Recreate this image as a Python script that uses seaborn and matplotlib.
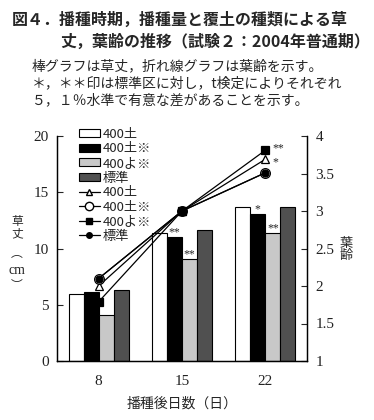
import matplotlib
matplotlib.use("Agg")
import matplotlib.pyplot as plt
import seaborn as sns
import pandas as pd
from matplotlib.patches import Patch
from matplotlib.lines import Line2D

# ---- data ----
days = ["8", "15", "22"]
series = ["400土", "400土※", "400よ※", "標準"]
height_400do = [6.0, 11.35, 13.65]
height_400do_k = [6.1, 11.05, 13.05]
height_400yo_k = [4.1, 9.05, 11.4]
height_std = [6.3, 11.65, 13.7]
leaf_400do = [2.0, 3.0, 3.69]
leaf_400do_k = [2.1, 3.0, 3.51]
leaf_400yo_k = [1.79, 3.0, 3.81]
leaf_std = [2.1, 3.0, 3.51]
bar_sig = {"400土※": ["", "**", "*"], "400よ※": ["", "**", "**"]}
line_sig = {"400土": ["", "", "*"], "400よ※": ["", "", "**"]}

title1 = "図４．播種時期，播種量と覆土の種類による草"
title2 = "丈，葉齢の推移（試験２：2004年普通期）"
notes = ["棒グラフは草丈，折れ線グラフは葉齢を示す。",
         "＊，＊＊印は標準区に対し，t検定によりそれぞれ",
         "５，１％水準で有意な差があることを示す。"]

heights = [height_400do, height_400do_k, height_400yo_k, height_std]
leaves = [leaf_400do, leaf_400do_k, leaf_400yo_k, leaf_std]

bar_df = pd.DataFrame({
    "day": days * 4,
    "series": [s for s in series for _ in days],
    "height": sum(heights, []),
})
line_df = pd.DataFrame({
    "x": list(range(len(days))) * 4,
    "series": [s for s in series for _ in days],
    "leaf": sum(leaves, []),
})

sns.set_style("white")
CJK = ["Noto Sans CJK JP", "DejaVu Sans"]
SERIF = ["Liberation Serif", "Noto Sans CJK JP"]
plt.rcParams["font.family"] = CJK

bar_colors = ["white", "black", "#c8c8c8", "#505050"]
markers = {"400土": "^", "400土※": "o", "400よ※": "s", "標準": "o"}
mfc = {"400土": "white", "400土※": "white", "400よ※": "black", "標準": "black"}
msize = {"400土": 6, "400土※": 7, "400よ※": 6, "標準": 5}

fig = plt.figure(figsize=(3.74, 4.2), dpi=100)
ax = fig.add_axes([57 / 374, 1 - 361 / 420, 250 / 374, 225 / 420])

sns.barplot(data=bar_df, x="day", y="height", hue="series", order=days,
            hue_order=series, palette=bar_colors, edgecolor="black",
            linewidth=0.8, width=0.72, gap=0, saturation=1, ax=ax, legend=False)

ax2 = ax.twinx()
for s in series:
    sub = line_df[line_df["series"] == s]
    sns.lineplot(data=sub, x="x", y="leaf", color="black", marker=markers[s],
                 markerfacecolor=mfc[s], markeredgecolor="black",
                 markersize=msize[s], markeredgewidth=0.9, linewidth=0.9,
                 ax=ax2, legend=False)

# significance marks on bars
for cont, s in zip(ax.containers, series):
    if s in bar_sig:
        for bar, mark in zip(cont, bar_sig[s]):
            if mark:
                ax.annotate(mark, (bar.get_x() + bar.get_width() / 2, bar.get_height()),
                            xytext=(0, -1), textcoords="offset points",
                            ha="center", va="bottom", fontsize=8.5,
                            family=SERIF)
line_offsets = {"400土": (5, -2), "400よ※": (5, 1.5)}
for s in series:
    if s in line_sig:
        vals = leaves[series.index(s)]
        for i, mark in enumerate(line_sig[s]):
            if mark:
                ax2.annotate(mark, (i, vals[i]), xytext=line_offsets[s],
                             textcoords="offset points", ha="left",
                             va="center", fontsize=8.5, family=SERIF)

ax.set_ylim(0, 20)
ax.set_yticks([0, 5, 10, 15, 20])
ax2.set_ylim(1, 4)
ax2.set_yticks([1, 1.5, 2, 2.5, 3, 3.5, 4])
ax2.set_yticklabels(["1", "1.5", "2", "2.5", "3", "3.5", "4"])
ax.set_xlim(-0.5, 2.5)

for a in (ax, ax2):
    a.spines["top"].set_visible(False)
    for sp in ("left", "right", "bottom"):
        a.spines[sp].set_linewidth(0.9)
        a.spines[sp].set_color("black")
    a.set_ylabel("")
    a.set_xlabel("")

ax.tick_params(axis="y", direction="in", length=4, width=0.8, labelsize=11, pad=6)
ax2.tick_params(axis="y", direction="in", length=4, width=0.8, labelsize=11, pad=6)
ax.tick_params(axis="x", which="major", length=0, labelsize=11, pad=10)
ax.set_xticks([0.5, 1.5], minor=True)
ax.tick_params(axis="x", which="minor", direction="in", length=4, width=0.8)
for lab in ax.get_yticklabels() + ax2.get_yticklabels() + ax.get_xticklabels():
    lab.set_family(SERIF)
    lab.set_color("#222222")

# axis labels
for ch, yy in (("草", 222), ("丈", 234), ("︵", 253), ("︶", 286)):
    fig.text(17 / 374, 1 - yy / 420, ch, ha="center", va="center", fontsize=8.5)
fig.text(17 / 374, 1 - 270 / 420, "cm", ha="center", va="center", fontsize=10,
         family=SERIF)
for ch, yy in (("葉", 243), ("齢", 256)):
    fig.text(346 / 374, 1 - yy / 420, ch, ha="center", va="center", fontsize=9.5)
fig.text(182 / 374, 1 - 404 / 420, "播種後日数（日）", ha="center", va="center",
         fontsize=10)

# legend
handles = [Patch(facecolor=c, edgecolor="black", linewidth=0.8) for c in bar_colors]
handles += [Line2D([], [], color="black", marker=markers[s], markerfacecolor=mfc[s],
                   markeredgecolor="black", markersize=msize[s] - 1, linewidth=0.9)
            for s in series]
labels = series + series
ax.legend(handles, labels, loc="upper left", bbox_to_anchor=(0.065, 1.06),
          frameon=False, fontsize=9.5, handlelength=1.6, handleheight=0.6,
          handletextpad=0.2, labelspacing=0.12, borderaxespad=0)

# titles and notes
fig.text(12 / 374, 1 - 20 / 420, title1, ha="left", va="center", fontsize=11.5,
         fontweight="bold")
fig.text(60 / 374, 1 - 42 / 420, title2, ha="left", va="center", fontsize=11.5,
         fontweight="bold")
for i, n in enumerate(notes):
    fig.text(32 / 374, 1 - (66 + 17 * i) / 420, n, ha="left", va="center",
             fontsize=10)

fig.savefig("out.png", dpi=100)
